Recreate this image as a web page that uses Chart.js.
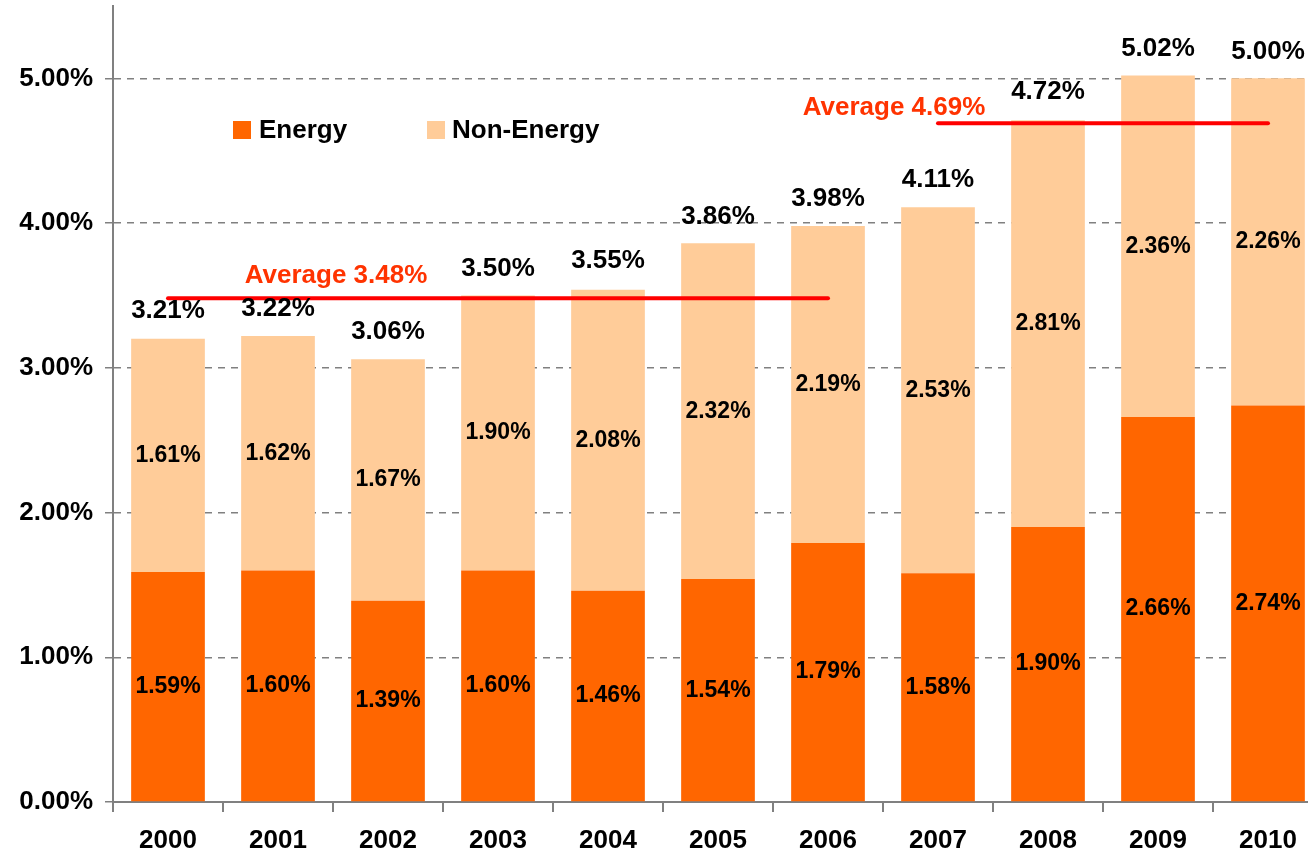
<!DOCTYPE html>
<html>
<head>
<meta charset="utf-8">
<script src="https://cdn.jsdelivr.net/npm/chart.js@4"></script>
<style>
  body { margin: 0; overflow: hidden; background: #fff; }
  #wrap { width: 1323px; height: 856px; position: relative; }
</style>
</head>
<body>
<div id="wrap"><canvas id="myChart"></canvas></div>
<script>
const years = ["2000", "2001", "2002", "2003", "2004", "2005", "2006", "2007", "2008", "2009", "2010"];
const energy = [1.59, 1.60, 1.39, 1.60, 1.46, 1.54, 1.79, 1.58, 1.90, 2.66, 2.74];
const nonEnergy = [1.61, 1.62, 1.67, 1.90, 2.08, 2.32, 2.19, 2.53, 2.81, 2.36, 2.26];
const totals = [3.21, 3.22, 3.06, 3.50, 3.55, 3.86, 3.98, 4.11, 4.72, 5.02, 5.00];
const avg1 = [3.48, 3.48, 3.48, 3.48, 3.48, 3.48, 3.48, null, null, null, null];
const avg2 = [null, null, null, null, null, null, null, 4.69, 4.69, 4.69, 4.69];
const yTicks = [0, 1, 2, 3, 4, 5];

const FONT = "'Liberation Sans', Arial, sans-serif";

// labels, totals, averages and legend drawn on top of the bars
const labelPlugin = {
  id: "labels",
  afterDatasetsDraw(chart) {
    const ctx = chart.ctx;
    const x = chart.scales.x;
    const y = chart.scales.y;
    ctx.save();
    ctx.textAlign = "center";
    ctx.textBaseline = "middle";

    ctx.fillStyle = "#000";
    ctx.font = "bold 23px " + FONT;
    [0, 1].forEach((di) => {
      const vals = di === 0 ? energy : nonEnergy;
      chart.getDatasetMeta(di).data.forEach((bar, i) => {
        const mid = (bar.y + bar.base) / 2;
        ctx.fillText(vals[i].toFixed(2) + "%", bar.x, mid);
      });
    });

    ctx.font = "bold 26px " + FONT;
    totals.forEach((t, i) => {
      ctx.fillText(t.toFixed(2) + "%", x.getPixelForValue(i), y.getPixelForValue(t) - 27);
    });

    ctx.fillStyle = "#FF3300";
    ctx.fillText("Average 3.48%", x.getPixelForValue(1.5) + 3, y.getPixelForValue(3.48) - 23);
    ctx.fillText("Average 4.69%", x.getPixelForValue(6.6), y.getPixelForValue(4.69) - 15);

    // legend
    ctx.textAlign = "left";
    ctx.fillStyle = "#FF6600";
    ctx.fillRect(233, 121, 18, 18);
    ctx.fillStyle = "#FFCC99";
    ctx.fillRect(427, 121, 18, 18);
    ctx.fillStyle = "#000";
    ctx.fillText("Energy", 259, 131);
    ctx.fillText("Non-Energy", 452, 131);
    ctx.restore();
  },
};

const ctx = document.getElementById("myChart").getContext("2d");
const chart = new Chart(ctx, {
  type: "bar",
  data: {
    labels: years,
    datasets: [
      {
        label: "Energy",
        data: energy,
        backgroundColor: "#FF6600",
        stack: "s",
        order: 2,
      },
      {
        label: "Non-Energy",
        data: nonEnergy,
        backgroundColor: "#FFCC99",
        stack: "s",
        order: 2,
      },
      {
        type: "line",
        label: "Average 2000-2006",
        data: avg1,
        borderColor: "#FF0000",
        borderWidth: 4,
        borderCapStyle: "round",
        pointRadius: 0,
        stack: "a1",
        order: 1,
      },
      {
        type: "line",
        label: "Average 2007-2010",
        data: avg2,
        borderColor: "#FF0000",
        borderWidth: 4,
        borderCapStyle: "round",
        pointRadius: 0,
        stack: "a2",
        order: 1,
      },
    ],
  },
  options: {
    responsive: true,
    maintainAspectRatio: false,
    animation: false,
    layout: { padding: { top: 6, right: 0, left: 0, bottom: 0 } },
    plugins: {
      legend: { display: false },
      tooltip: { enabled: false },
    },
    datasets: {
      bar: { categoryPercentage: 1, barPercentage: 0.67 },
    },
    scales: {
      x: {
        stacked: true,
        grid: {
          offset: true,
          drawOnChartArea: false,
          drawTicks: true,
          tickLength: 10,
          color: "#808080",
          lineWidth: 2,
        },
        border: { color: "#808080", width: 2 },
        ticks: {
          color: "#000",
          padding: 13,
          font: { family: FONT, size: 26, weight: "bold" },
        },
        afterFit(scale) {
          scale.height = 54;
          scale.paddingLeft = 0;
          scale.paddingRight = 0;
        },
      },
      y: {
        stacked: true,
        min: 0,
        max: 5.5,
        afterBuildTicks(scale) {
          scale.ticks = yTicks.map((v) => ({ value: v }));
        },
        afterFit(scale) {
          scale.width = 113;
          scale.paddingTop = 0;
          scale.paddingBottom = 0;
        },
        grid: {
          color: (c) => (c.tick && c.tick.value === 0 ? "rgba(0,0,0,0)" : "#808080"),
          lineWidth: 1.5,
          tickBorderDash: [],
          tickColor: "#808080",
          tickLength: 8,
        },
        border: { color: "#808080", width: 2, dash: [7, 6] },
        ticks: {
          color: "#000",
          padding: 12,
          font: { family: FONT, size: 26, weight: "bold" },
          callback: (v) => Number(v).toFixed(2) + "%",
        },
      },
    },
  },
  plugins: [labelPlugin],
});
</script>
</body>
</html>
